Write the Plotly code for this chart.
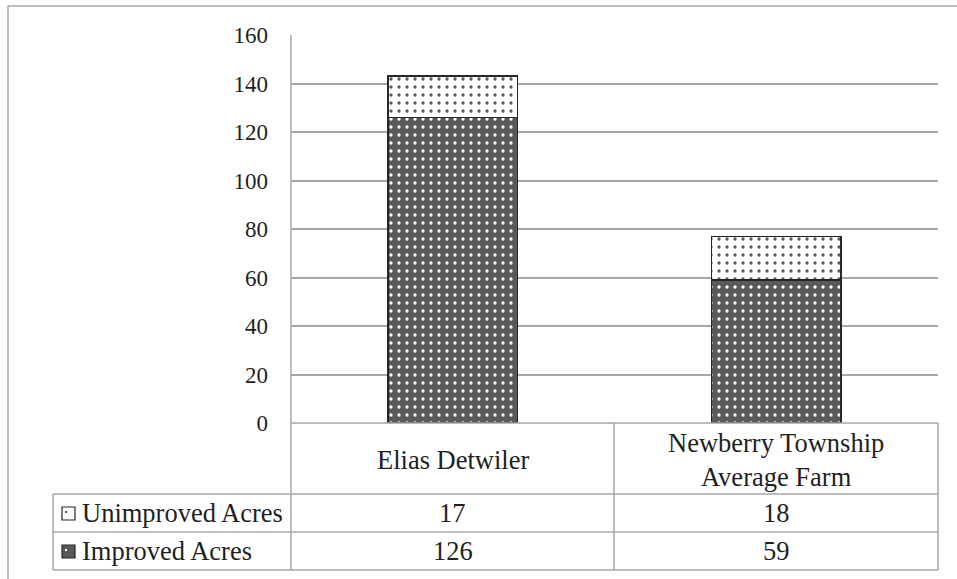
import plotly.graph_objects as go

# Farm acreage: one farmer against the township average
categories = ["Elias Detwiler", "Newberry Township<br>Average Farm"]
improved = [126, 59]
unimproved = [17, 18]
series_names = ["Unimproved Acres", "Improved Acres"]
y_ticks = [0, 20, 40, 60, 80, 100, 120, 140, 160]

W, H = 957, 579
L, R, T, B = 291, 938, 35, 423  # plot area in pixels

DARK = "#595959"
EDGE = "#262626"
GRID = "#a6a6a6"
INK = "#1f1f1f"
FONT = "Liberation Serif"


def px(x):
    return (x - L) / (R - L)


def py(y):
    return (B - y) / (B - T)


fig = go.Figure()
fig.add_trace(go.Bar(
    x=categories, y=improved, name=series_names[1], width=0.4,
    marker=dict(color=DARK, line=dict(color=EDGE, width=1.5),
                pattern=dict(shape=".", fgcolor="white", bgcolor=DARK,
                             size=8, solidity=0.13, fillmode="replace")),
))
fig.add_trace(go.Bar(
    x=categories, y=unimproved, name=series_names[0], width=0.4,
    marker=dict(color="white", line=dict(color=EDGE, width=1.5),
                pattern=dict(shape=".", fgcolor=DARK, bgcolor="white",
                             size=8, solidity=0.13, fillmode="replace")),
))

shapes = []
line = dict(color=GRID, width=1.5)


def hline(x0, x1, y):
    shapes.append(dict(type="line", xref="paper", yref="paper",
                       x0=px(x0), x1=px(x1), y0=py(y), y1=py(y), line=line))


def vline(x, y0, y1):
    shapes.append(dict(type="line", xref="paper", yref="paper",
                       x0=px(x), x1=px(x), y0=py(y0), y1=py(y1), line=line))


# outer chart frame
hline(8, 957, 6)
vline(8, 6, 579)

# data table grid
COL_MID = 614
ROW1, ROW2, ROW3 = 494, 532, 570
hline(L, R, B)
hline(53, R, ROW1)
hline(53, R, ROW2)
hline(53, R, ROW3)
vline(L, T, ROW3)
vline(COL_MID, B, ROW3)
vline(R, B, ROW3)
vline(53, ROW1, ROW3)

annotations = []
centers = [(L + COL_MID) / 2, (COL_MID + R) / 2]
font = dict(family=FONT, size=26.5, color=INK)


def text(x, y, s, xanchor="center"):
    annotations.append(dict(xref="paper", yref="paper", x=px(x), y=py(y),
                            text=s, showarrow=False, xanchor=xanchor,
                            yanchor="middle", font=font))


for cx, cat in zip(centers, categories):
    text(cx, (B + ROW1) / 2 + 1, cat)

rows = [(unimproved, (ROW1 + ROW2) / 2, series_names[0]),
        (improved, (ROW2 + ROW3) / 2, series_names[1])]
for vals, cy, name in rows:
    for cx, v in zip(centers, vals):
        text(cx, cy, str(v))
    text(80, cy, name, xanchor="left")

# legend keys in the table
for (vals, cy, name), fill, dot in zip(rows, ["white", DARK], [DARK, "white"]):
    shapes.append(dict(type="rect", xref="paper", yref="paper",
                       x0=px(62), x1=px(75), y0=py(cy - 6), y1=py(cy + 7),
                       fillcolor=fill, line=dict(color=EDGE, width=1.2)))
    shapes.append(dict(type="rect", xref="paper", yref="paper",
                       x0=px(65), x1=px(67), y0=py(cy - 2), y1=py(cy),
                       fillcolor=dot, line=dict(width=0)))

fig.update_layout(
    barmode="stack",
    width=W, height=H,
    margin=dict(l=L, r=W - R, t=T, b=H - B),
    paper_bgcolor="white", plot_bgcolor="white",
    showlegend=False,
    font=dict(family=FONT, size=23, color=INK),
    xaxis=dict(range=[-0.5, 1.5], showticklabels=False, showgrid=False,
               zeroline=False, showline=False, fixedrange=True),
    yaxis=dict(range=[0, 160], tickvals=y_ticks, showgrid=True,
               gridcolor=GRID, gridwidth=1.5, zeroline=False, showline=False,
               ticks="", ticklabelstandoff=22,
               tickfont=dict(family=FONT, size=23, color=INK)),
    shapes=shapes,
    annotations=annotations,
)

fig.write_html("out.html")
